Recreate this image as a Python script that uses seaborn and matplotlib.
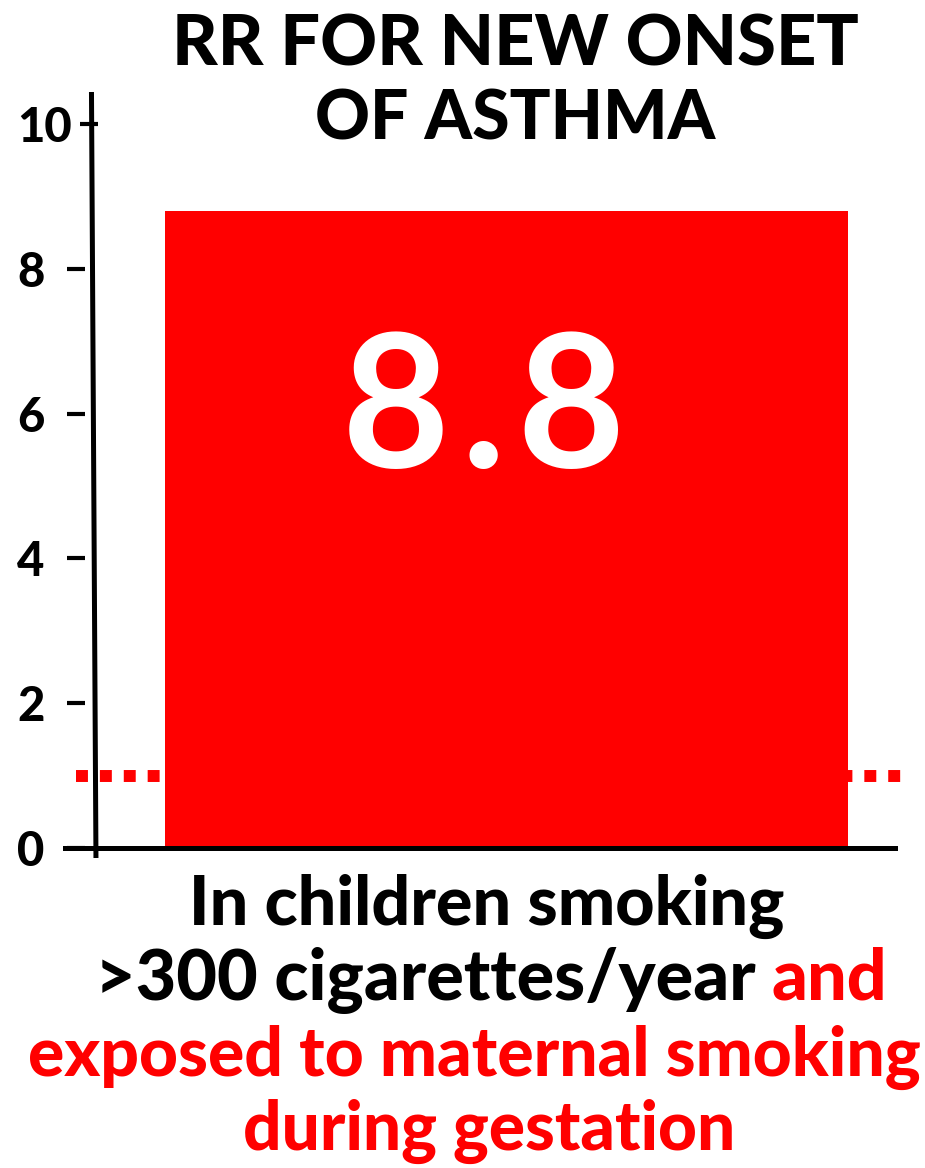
import matplotlib
matplotlib.use("Agg")
import matplotlib.pyplot as plt
import matplotlib.transforms as mtransforms
import seaborn as sns
import pandas as pd

# Data
categories = ["Children smoking >300 cigarettes/year, maternal smoking in gestation"]
values = [8.8]
reference_rr = 1.0
yticks = [0, 2, 4, 6, 8, 10]
title_lines = ["RR FOR NEW ONSET", "OF ASTHMA"]
value_label = "8.8"

RED = "#FF0000"
BLACK = "#000000"
W, H = 925, 1168

sns.set_theme(style="white")
plt.rcParams["font.family"] = ["Lato", "DejaVu Sans"]

fig = plt.figure(figsize=(W / 100, H / 100), dpi=100)
fig.patch.set_facecolor("white")

# Axes box in pixels: x 65..895, y 92..858
ax = fig.add_axes([65 / W, 1 - 858 / H, 830 / W, (858 - 92) / H])
ax.set_facecolor("white")

df = pd.DataFrame({"group": categories, "rr": values})
sns.barplot(data=df, x="group", y="rr", color=RED, saturation=1.0,
            width=0.8, ax=ax, zorder=3, linewidth=0)

ax.set_xlim(-0.5171, 0.4551)
ax.set_ylim(-0.138, 10.44)

# Reference line at RR = 1 (square red dots)
ax.axhline(reference_rr, xmin=11 / 830, xmax=839 / 830, color=RED, lw=8.6,
           linestyle=(0, (1.0, 1.0)), dash_capstyle="butt", zorder=2,
           clip_on=False)

# Value label inside the bar, with a little extra room around the point
ax.text(-0.027, 5.98, value_label.replace(".", "\u200a.\u200a"),
        ha="center", va="center", color="white",
        fontsize=134, fontweight="bold", zorder=4)

# Spines: bottom at y = 0, left drawn as a hand-drawn-looking line
for s in ["top", "right"]:
    ax.spines[s].set_visible(False)
ax.spines["bottom"].set_position(("data", 0))
ax.spines["bottom"].set_linewidth(3.6)
ax.spines["bottom"].set_color(BLACK)
ax.spines["bottom"].set_zorder(5)
ax.spines["left"].set_visible(False)
ax.spines["left"].set_position(("axes", 20 / 830))

ax.plot([0.0319, 0.0373], [1.0, 0.0], transform=ax.transAxes, color=BLACK,
        lw=3.6, clip_on=False, zorder=6, solid_capstyle="butt")

ax.set_xticks([])
ax.set_xlabel("")
ax.set_ylabel("")
ax.set_yticks(yticks)
ax.set_yticklabels([str(v) for v in yticks])
ax.tick_params(axis="y", direction="out", length=13, width=3, color=BLACK,
               pad=16, labelsize=34, left=True)
for lab in ax.get_yticklabels():
    lab.set_fontweight("black")
    lab.set_color(BLACK)

# The top tick sits closer to the axis line
top_tick = ax.yaxis.get_major_ticks()[-1]
shift_tick = mtransforms.ScaledTranslation(13 / 100, 0, fig.dpi_scale_trans)
shift_label = mtransforms.ScaledTranslation(27 / 100, 0, fig.dpi_scale_trans)
top_tick.tick1line.set_transform(top_tick.tick1line.get_transform() + shift_tick)
top_tick.label1.set_transform(top_tick.label1.get_transform() + shift_label)

fig.canvas.draw()
renderer = fig.canvas.get_renderer()


def fitted_text(s, cx, baseline, target_w, color, weight="black", ha="center"):
    t = fig.text(cx / W, 1 - baseline / H, s, ha=ha, va="baseline",
                 fontsize=40, color=color, fontweight=weight)
    w = t.get_window_extent(renderer).width
    t.set_fontsize(40 * target_w / w)
    return t


# Title
fitted_text(title_lines[0], 515, 65, 686, BLACK)
fitted_text(title_lines[1], 515, 140, 400, BLACK)

# Category description below the axis
fitted_text("In children smoking", 487, 925, 595, BLACK)

# Second line: black text followed by red "and"
probe = fitted_text(">300 cigarettes/year and", 491, 1000, 793, BLACK)
size2 = probe.get_fontsize()
bb = probe.get_window_extent(renderer)
probe.remove()
fig.text(bb.x0 / W, 1 - 1000 / H, ">300 cigarettes/year ", ha="left",
         va="baseline", fontsize=size2, color=BLACK, fontweight="black")
fig.text(bb.x1 / W, 1 - 1000 / H, "and", ha="right", va="baseline",
         fontsize=size2, color=RED, fontweight="black")

fitted_text("exposed to maternal smoking", 474, 1076, 892, RED)
fitted_text("during gestation", 489, 1150, 492, RED)

fig.savefig("out.png", dpi=100, facecolor="white")
